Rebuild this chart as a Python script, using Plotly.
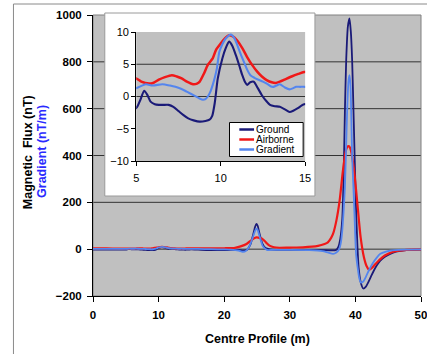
import plotly.graph_objects as go

# Series names, in legend order
names = ["Ground", "Airborne", "Gradient"]
colors = ["#1a1a78", "#f01818", "#5485ee"]

# Ground survey (nT) along the centre profile (m)
ground_x = [0, 1, 2, 3, 4, 5, 5.25, 5.47, 5.65, 5.85, 6.1, 6.34, 6.6, 6.92, 7.2, 7.5,
            7.8, 8.08, 8.4, 8.76, 9.1, 9.34, 9.5, 9.65, 9.83, 10.1, 10.3, 10.5, 10.7,
            10.9, 11.1, 11.28, 11.45, 11.57, 11.75, 11.96, 12.2, 12.44, 12.7, 12.92,
            13.2, 13.5, 13.8, 14.08, 14.3, 14.57, 14.94, 15.5, 16.5, 18, 20, 21, 22,
            22.8, 23.5, 24.0, 24.4, 24.7, 24.9, 25.1, 25.4, 25.8, 26.3, 27, 28, 30,
            32, 34, 35, 36, 37, 37.4, 37.7, 38.0, 38.2, 38.4, 38.6, 38.85, 39.1, 39.3,
            39.5, 39.7, 39.9, 40.1, 40.3, 40.5, 40.8, 41.2, 41.6, 41.9, 42.4, 42.8,
            43.3, 43.8, 44.5, 45.3, 46.2, 47.2, 48.5, 50]
ground_y = [-2, -1.5, -2, -1.5, -2, -1.8, -0.5, 0.9, 0.3, -0.8, -1.2, -1.3, -1.3, -1.3,
            -1.6, -2.25, -2.9, -3.4, -3.7, -3.9, -3.8, -3.6, -3.0, -1.0, 2.8, 5.9, 7.5,
            8.5, 7.8, 6.4, 4.8, 3.3, 2.2, 1.8, 2.2, 2.3, 1.3, 0.2, -0.7, -1.3, -1.5,
            -1.6, -2.0, -2.4, -2.2, -1.8, -1.2, -1.5, -3, -4, -4, -3, -3, -6, -2, 20,
            60, 95, 108, 100, 65, 25, 5, -1, -3, -3, -3, -4, -4, -5, -4, 10, 45, 130,
            300, 590, 810, 950, 985, 930, 810, 600, 380, 170, 20, -80, -140, -168,
            -160, -145, -115, -92, -68, -49, -32, -20, -11, -6, -3, -2]

# Airborne survey (nT)
air_x = [0, 2, 4, 5, 5.3, 5.76, 6.0, 6.34, 6.7, 7.11, 7.4, 7.69, 8.0, 8.37, 8.6, 8.76,
         9.0, 9.24, 9.53, 9.72, 10.0, 10.25, 10.5, 10.8, 11.0, 11.28, 11.55, 11.86,
         12.15, 12.44, 12.75, 13.02, 13.25, 13.5, 13.85, 14.2, 14.6, 14.94, 16, 18, 20,
         21.5, 22.5, 23.4, 24.2, 24.9, 25.5, 25.9, 26.4, 26.9, 27.6, 28.4, 30, 32, 34.3,
         35.3, 35.8, 36.3, 36.6, 37.1, 37.6, 38.1, 38.5, 38.75, 39.0, 39.2, 39.4, 39.8,
         40.3, 40.8, 41.3, 41.7, 42.1, 42.6, 43.1, 44.1, 45.0, 45.8, 47.8, 50]
air_y = [3, 3, 2.5, 2.8, 2.3, 2.0, 2.1, 2.6, 3.0, 3.3, 3.1, 2.8, 2.3, 1.9, 2.0, 2.3,
         3.5, 4.9, 5.9, 7.2, 8.2, 9.0, 9.5, 9.2, 8.6, 7.5, 6.2, 4.9, 3.9, 3.1, 2.5, 2.2,
         2.1, 2.3, 2.7, 3.1, 3.5, 3.8, 4, 4, 4, 5, 12, 22, 40, 50, 47, 42, 28, 15, 8, 6,
         7, 8, 14, 22, 29, 48, 66, 122, 208, 336, 415, 436, 440, 432, 412, 336, 195, 50,
         -35, -72, -88, -78, -62, -35, -20, -11, -3, -1]

# Vertical gradient (nT/m)
grad_x = [0, 2, 4, 5, 5.56, 5.97, 6.55, 7.0, 7.32, 7.65, 7.99, 8.47, 8.75, 8.95, 9.1,
          9.24, 9.4, 9.53, 9.65, 9.78, 9.92, 10.1, 10.3, 10.6, 10.8, 10.98, 11.18, 11.37,
          11.56, 11.76, 12.0, 12.24, 12.5, 12.73, 12.95, 13.12, 13.3, 13.5, 13.8, 14.08,
          14.3, 14.47, 14.7, 15, 16, 18, 20, 21, 22.2, 22.8, 23.3, 23.8, 24.3, 24.7, 24.9,
          25.1, 25.5, 25.9, 26.5, 27.5, 30, 33, 35, 35.8, 36.6, 37.1, 37.5, 37.8, 38.0,
          38.2, 38.4, 38.55, 38.75, 38.95, 39.1, 39.25, 39.35, 39.5, 39.8, 40.1, 40.4,
          40.6, 40.85, 41.2, 41.6, 42.1, 42.6, 43.2, 43.8, 44.8, 46, 48, 50]
grad_y = [1, 1, 1.2, 1.3, 1.9, 1.7, 1.9, 1.7, 1.5, 1.2, 0.75, 0.1, -0.3, -0.5, -0.4, 0,
          0.8, 1.8, 2.9, 4.4, 6.9, 8.1, 9.0, 9.6, 9.1, 8.0, 6.6, 5.4, 4.2, 3.3, 2.9, 2.6,
          2.3, 2.0, 1.6, 1.5, 1.7, 1.9, 1.4, 1.1, 1.3, 1.5, 1.5, 1.5, 1, 0, -1, -2, -6,
          -11, -8, 10, 45, 78, 88, 82, 45, 12, -3, -3, -3, -4, -8, -14, -20, -14, -2, 30,
          80, 160, 265, 400, 600, 720, 743, 700, 600, 400, 195, -20, -90, -125, -143,
          -138, -118, -88, -62, -38, -20, -9, -4, -2, -1]

series = [(ground_x, ground_y), (air_x, air_y), (grad_x, grad_y)]
widths = [1.8, 2.2, 1.8]

# Axis ticks
main_xticks = [0, 10, 20, 30, 40, 50]
main_yticks = [-200, 0, 200, 400, 600, 800, 1000]
main_grid = [0, 200, 400, 600, 800]
inset_xticks = [5, 10, 15]
inset_yticks = [-10, -5, 0, 5, 10]
inset_grid = [0, 5]

W, H = 427, 354
L, R, T, B = 93, 0, 15, 58
pw, ph = W - L - R, H - T - B


def px(x):
    return (x - L) / pw


def py(y):
    return (H - B - y) / ph


fig = go.Figure()
for (xs, ys), name, c, w in zip(series, names, colors, widths):
    fig.add_trace(go.Scatter(x=xs, y=ys, name=name, mode="lines",
                             line=dict(color=c, width=w, shape="spline", smoothing=0.6),
                             xaxis="x", yaxis="y", showlegend=False, hoverinfo="skip"))
for (xs, ys), name, c, w in zip(series, names, colors, widths):
    fig.add_trace(go.Scatter(x=xs, y=ys, name=name, mode="lines",
                             line=dict(color=c, width=w + 0.3, shape="spline", smoothing=0.6),
                             xaxis="x2", yaxis="y2", showlegend=False, hoverinfo="skip"))

shapes = []
# outer chart border
shapes.append(dict(type="rect", xref="paper", yref="paper", layer="below",
                   x0=px(12), x1=px(445), y0=py(4), y1=py(370),
                   line=dict(color="#8a8a8a", width=1), fillcolor="rgba(0,0,0,0)"))
# main horizontal gridlines
for g in main_grid:
    shapes.append(dict(type="line", xref="paper", yref="y", layer="below",
                       x0=0, x1=1, y0=g, y1=g, line=dict(color="#333333", width=1)))
# main plot frame
shapes.append(dict(type="rect", xref="paper", yref="paper", layer="below",
                   x0=0, x1=1, y0=0, y1=1, line=dict(color="#808080", width=1)))
# inset panel
shapes.append(dict(type="rect", xref="paper", yref="paper", layer="below",
                   x0=px(105), x1=px(319), y0=py(13), y1=py(196),
                   line=dict(color="#9a9a9a", width=1), fillcolor="white"))
# inset gridlines
for g in inset_grid:
    shapes.append(dict(type="line", xref="x2", yref="y2", layer="below",
                       x0=5, x1=15, y0=g, y1=g, line=dict(color="#333333", width=1)))
# inset legend box and line samples
leg_rows = [129.5, 139.5, 149.5]
shapes.append(dict(type="rect", xref="paper", yref="paper", layer="above",
                   x0=px(232), x1=px(307), y0=py(122.5), y1=py(156.5),
                   line=dict(color="black", width=1), fillcolor="white"))
for r, c in zip(leg_rows, colors):
    shapes.append(dict(type="line", xref="paper", yref="paper", layer="above",
                       x0=px(242), x1=px(257), y0=py(r), y1=py(r),
                       line=dict(color=c, width=2.5)))

annotations = []
for r, n in zip(leg_rows, names):
    annotations.append(dict(text=n, xref="paper", yref="paper", x=px(257), y=py(r),
                            xanchor="left", yanchor="middle", showarrow=False,
                            font=dict(family="Liberation Sans", size=10, color="black")))
annotations.append(dict(text="Magnetic  Flux (nT)", xref="paper", yref="paper",
                        x=px(27), y=py(152), textangle=-90, showarrow=False,
                        xanchor="center", yanchor="middle",
                        font=dict(family="Liberation Sans", size=12.5, color="black", weight="bold")))
annotations.append(dict(text="Gradient (nT/m)", xref="paper", yref="paper",
                        x=px(41), y=py(151), textangle=-90, showarrow=False,
                        xanchor="center", yanchor="middle",
                        font=dict(family="Liberation Sans", size=12.5, color="#2a2aff", weight="bold")))
annotations.append(dict(text="Centre Profile (m)", xref="paper", yref="paper",
                        x=0.5, y=py(339), showarrow=False, xanchor="center", yanchor="middle",
                        font=dict(family="Liberation Sans", size=12.5, color="black", weight="bold")))

main_tickfont = dict(family="Liberation Sans", size=11.5, color="black", weight="bold")
inset_tickfont = dict(family="Liberation Sans", size=11, color="black")

fig.update_layout(
    width=W, height=H, autosize=False,
    margin=dict(l=L, r=R, t=T, b=B, pad=0),
    paper_bgcolor="white", plot_bgcolor="#c0c0c0",
    shapes=shapes, annotations=annotations,
    xaxis=dict(range=[0, 50], tickvals=main_xticks, showgrid=False, zeroline=False,
               showline=True, linecolor="black", linewidth=1, ticks="outside",
               ticklen=5, tickcolor="black", tickfont=main_tickfont,
               ticklabelstandoff=3, ticklabeloverflow="allow", fixedrange=True),
    yaxis=dict(range=[-200, 1000], tickvals=main_yticks, showgrid=False, zeroline=False,
               showline=True, linecolor="black", linewidth=1, ticks="outside",
               ticklen=5, tickcolor="black", tickfont=main_tickfont,
               ticklabelstandoff=3, fixedrange=True),
    xaxis2=dict(domain=[px(137), px(309)], anchor="y2", range=[5, 15],
                tickvals=inset_xticks, showgrid=False, zeroline=False,
                showline=True, linecolor="black", linewidth=1, ticks="outside",
                ticklen=4, tickcolor="black", tickfont=inset_tickfont,
                ticklabelstandoff=3, fixedrange=True),
    yaxis2=dict(domain=[py(161), py(32)], anchor="x2", range=[-10, 10],
                tickvals=inset_yticks, showgrid=False, zeroline=False,
                showline=True, linecolor="black", linewidth=1, ticks="outside",
                ticklen=4, tickcolor="black", tickfont=inset_tickfont, fixedrange=True),
)

fig.write_html("out.html", config={"displayModeBar": False})
